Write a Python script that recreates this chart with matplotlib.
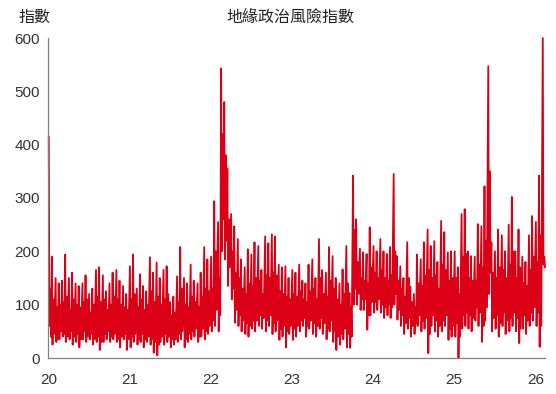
import matplotlib
matplotlib.use('Agg')
import matplotlib.pyplot as plt
import numpy as np
import pandas as pd

plt.rcParams['font.family'] = ['Liberation Sans', 'Noto Sans CJK TC']

title = '地緣政治風險指數'
y_label = '指數'
year_labels = ['20', '21', '22', '23', '24', '25', '26']
year_ticks = [2020, 2021, 2022, 2023, 2024, 2025, 2026]
y_ticks = [0, 100, 200, 300, 400, 500, 600]

# Half-month readings of the daily index:
# hi = highest spike, lo = deepest dip, mid = top of the dense band, lo2 = bottom of the dense band
hi_2020 = [415, 190, 150, 140, 145, 194, 150, 160, 140, 135, 140, 155, 120, 130, 165, 170, 155, 125, 140, 160, 165, 145, 135, 120]
lo_2020 = [60, 25, 30, 35, 40, 30, 35, 25, 30, 20, 35, 30, 35, 25, 30, 15, 30, 35, 30, 35, 30, 20, 35, 15]
mid_2020 = [130, 110, 95, 100, 105, 115, 90, 110, 100, 95, 105, 110, 85, 100, 115, 105, 110, 90, 100, 115, 110, 100, 95, 90]
lo2_2020 = [40, 45, 35, 50, 45, 40, 50, 40, 45, 35, 50, 40, 45, 35, 40, 30, 45, 50, 40, 45, 35, 40, 45, 35]

hi_2021 = [172, 194, 130, 157, 135, 125, 189, 160, 179, 150, 165, 172, 105, 115, 153, 208, 150, 140, 175, 145, 140, 160, 208, 185]
lo_2021 = [20, 30, 25, 30, 20, 30, 25, 10, 5, 30, 25, 30, 20, 25, 30, 35, 20, 30, 35, 40, 30, 40, 35, 45]
mid_2021 = [110, 120, 95, 110, 90, 100, 125, 105, 115, 100, 110, 120, 80, 85, 105, 130, 100, 95, 115, 105, 95, 115, 130, 125]
lo2_2021 = [40, 45, 35, 45, 35, 40, 35, 30, 25, 40, 45, 40, 35, 35, 45, 50, 35, 45, 50, 55, 40, 55, 50, 60]

hi_2022 = [190, 294, 255, 543, 480, 355, 270, 247, 223, 185, 170, 204, 194, 217, 210, 165, 228, 215, 232, 228, 175, 170, 172, 150]
lo_2022 = [50, 60, 50, 200, 185, 135, 110, 66, 60, 50, 45, 40, 55, 50, 60, 55, 50, 60, 45, 50, 34, 40, 20, 45]
mid_2022 = [130, 200, 150, 420, 380, 260, 200, 160, 150, 130, 120, 140, 135, 150, 145, 120, 155, 150, 160, 155, 125, 120, 115, 110]
lo2_2022 = [70, 90, 80, 260, 220, 170, 130, 90, 80, 70, 65, 60, 70, 70, 80, 75, 70, 80, 65, 70, 55, 60, 50, 60]

hi_2023 = [165, 160, 175, 145, 140, 175, 185, 150, 223, 165, 160, 208, 191, 150, 140, 166, 210, 122, 342, 260, 205, 198, 195, 245]
lo_2023 = [34, 40, 50, 60, 40, 55, 45, 40, 55, 45, 35, 50, 30, 15, 25, 35, 20, 19, 100, 100, 90, 90, 53, 80]
mid_2023 = [120, 115, 125, 110, 105, 125, 130, 110, 150, 120, 115, 145, 130, 110, 100, 120, 140, 95, 240, 180, 150, 145, 140, 170]
lo2_2023 = [55, 60, 70, 75, 60, 70, 65, 60, 75, 65, 55, 70, 50, 40, 45, 55, 45, 40, 130, 120, 110, 110, 80, 105]

hi_2024 = [210, 200, 223, 200, 195, 208, 345, 191, 172, 150, 217, 134, 120, 194, 185, 217, 241, 210, 219, 180, 257, 236, 198, 200]
lo_2024 = [85, 90, 85, 75, 80, 75, 100, 72, 60, 45, 55, 40, 45, 60, 50, 55, 9, 60, 50, 40, 50, 60, 34, 40]
mid_2024 = [160, 150, 165, 150, 145, 155, 200, 145, 130, 115, 150, 105, 95, 140, 135, 155, 165, 150, 155, 130, 175, 165, 145, 150]
lo2_2024 = [105, 110, 100, 95, 100, 95, 120, 90, 80, 65, 75, 60, 65, 80, 70, 75, 45, 80, 70, 60, 70, 80, 55, 60]

hi_2025 = [200, 170, 270, 279, 200, 191, 190, 251, 247, 322, 547, 217, 200, 241, 230, 200, 250, 302, 200, 241, 190, 180, 230, 266]
lo_2025 = [40, 0, 55, 60, 55, 50, 70, 60, 30, 70, 120, 50, 55, 40, 60, 45, 50, 60, 50, 28, 55, 45, 60, 70]
mid_2025 = [150, 120, 190, 195, 150, 145, 145, 175, 170, 220, 350, 160, 150, 170, 165, 150, 175, 200, 150, 170, 140, 135, 165, 190]
lo2_2025 = [65, 40, 80, 85, 80, 75, 95, 85, 60, 95, 160, 75, 80, 65, 85, 70, 75, 85, 75, 55, 80, 70, 85, 95]

hi_2026 = [255, 342, 600]
lo_2026 = [60, 21, 175]
mid_2026 = [180, 230, 190]
lo2_2026 = [85, 60, 170]

hi = hi_2020 + hi_2021 + hi_2022 + hi_2023 + hi_2024 + hi_2025 + hi_2026
lo = lo_2020 + lo_2021 + lo_2022 + lo_2023 + lo_2024 + lo_2025 + lo_2026
mid = mid_2020 + mid_2021 + mid_2022 + mid_2023 + mid_2024 + mid_2025 + mid_2026
lo2 = lo2_2020 + lo2_2021 + lo2_2022 + lo2_2023 + lo2_2024 + lo2_2025 + lo2_2026

starts = pd.date_range('2020-01-01', periods=len(hi), freq='SMS')


def dec_year(d):
    days = np.where(d.is_leap_year, 366.0, 365.0)
    return d.year + (d.dayofyear - 1) / days


n = len(hi)
x = np.empty(4 * n)
y = np.empty(4 * n)
for j, (vals, off) in enumerate([(hi, 2), (lo, 5), (mid, 9), (lo2, 12)]):
    x[j::4] = dec_year(starts + pd.Timedelta(days=off))
    y[j::4] = vals

fig = plt.figure(figsize=(5.56, 3.94), dpi=100)
ax = fig.add_axes([48.3 / 556, 1 - 358 / 394, (545 - 48.3) / 556, 320 / 394])

ax.plot(x, y, color='#DC0016', lw=1.3, clip_on=False)

ax.set_xlim(2020, x[-1])
ax.set_ylim(0, 600)
ax.set_xticks(year_ticks)
ax.set_xticklabels(year_labels)
ax.set_yticks(y_ticks)
ax.set_yticklabels([str(v) for v in y_ticks])

for s in ['top', 'right']:
    ax.spines[s].set_visible(False)
for s in ['left', 'bottom']:
    ax.spines[s].set_color('#808080')
    ax.spines[s].set_linewidth(0.9)

ax.tick_params(axis='both', length=0, labelsize=11, colors='#333333')
ax.tick_params(axis='x', pad=11)
ax.tick_params(axis='y', pad=6)

fig.text(290 / 556, 1 - 17 / 394, title, ha='center', va='center', fontsize=11.5, color='#222222')
fig.text(35 / 556, 1 - 17 / 394, y_label, ha='center', va='center', fontsize=11.5, color='#222222')

fig.savefig('out.png', dpi=100)
